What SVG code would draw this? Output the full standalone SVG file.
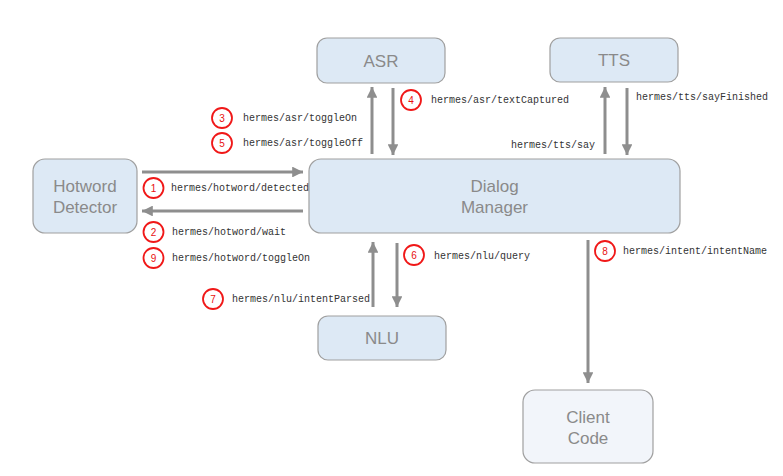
<svg xmlns="http://www.w3.org/2000/svg" width="783" height="476" viewBox="0 0 783 476">
<defs>
<marker id="ah" viewBox="0 0 10 10" refX="10" refY="5" markerWidth="3.6" markerHeight="3.6" markerUnits="strokeWidth" orient="auto">
<path d="M0,0 L10,5 L0,10 Z" fill="#8e8e8e"/>
</marker>
<style>
.node{fill:#dde9f5;stroke:#a0a0a0;stroke-width:1.2}
.client{fill:#f2f5fa;stroke:#a0a0a0;stroke-width:1.2}
.nt{font-family:"Liberation Sans",Arial,sans-serif;font-size:17px;fill:#8a8a8a;text-anchor:middle}
.ed{stroke:#8e8e8e;stroke-width:3;fill:none;marker-end:url(#ah)}
.lb{font-family:"Liberation Mono","Courier New",monospace;font-size:10px;fill:#333}
.c{fill:#fff;stroke:#f01818;stroke-width:1.8}
.cn{font-family:"Liberation Sans",Arial,sans-serif;font-size:10px;fill:#e81010;text-anchor:middle}
</style>
</defs>
<rect width="783" height="476" fill="#fff"/>
<g id="asr"><rect class="node" x="317" y="38" width="128" height="45" rx="10"/><text class="nt" x="381" y="67">ASR</text></g>
<g id="tts"><rect class="node" x="550" y="38" width="128" height="44" rx="10"/><text class="nt" x="614" y="66">TTS</text></g>
<g id="hotword"><rect class="node" x="33" y="159" width="104" height="74" rx="12"/><text class="nt" x="85" y="192">Hotword</text><text class="nt" x="85" y="213">Detector</text></g>
<g id="dialog"><rect class="node" x="309" y="159" width="371" height="74" rx="12"/><text class="nt" x="494.5" y="192">Dialog</text><text class="nt" x="494.5" y="213">Manager</text></g>
<g id="nlu"><rect class="node" x="318" y="316" width="128" height="44" rx="10"/><text class="nt" x="382" y="344">NLU</text></g>
<g id="client"><rect class="client" x="523" y="390" width="130" height="73" rx="12"/><text class="nt" x="588" y="423">Client</text><text class="nt" x="588" y="444">Code</text></g>
<g id="connectors">
<line class="ed" x1="372" y1="154" x2="372" y2="87"/>
<line class="ed" x1="393" y1="88" x2="393" y2="155"/>
<line class="ed" x1="605" y1="154" x2="605" y2="87"/>
<line class="ed" x1="627" y1="88" x2="627" y2="155"/>
<line class="ed" x1="142" y1="172" x2="303" y2="172"/>
<line class="ed" x1="303" y1="211" x2="142" y2="211"/>
<line class="ed" x1="373" y1="307" x2="373" y2="242"/>
<line class="ed" x1="397" y1="243" x2="397" y2="307"/>
<line class="ed" x1="588" y1="240" x2="588" y2="383"/>
</g>
<g id="labels">
<circle class="c" cx="222" cy="118" r="10"/><text class="cn" x="222" y="121.5">3</text><text class="lb" x="243" y="121">hermes/asr/toggleOn</text>
<circle class="c" cx="222" cy="143" r="10"/><text class="cn" x="222" y="146.5">5</text><text class="lb" x="243" y="146">hermes/asr/toggleOff</text>
<circle class="c" cx="411" cy="100" r="10"/><text class="cn" x="411" y="103.5">4</text><text class="lb" x="431" y="103">hermes/asr/textCaptured</text>
<text class="lb" x="636" y="100">hermes/tts/sayFinished</text>
<text class="lb" x="511" y="148">hermes/tts/say</text>
<circle class="c" cx="153.5" cy="188" r="10"/><text class="cn" x="153.5" y="191.5">1</text><text class="lb" x="171" y="191">hermes/hotword/detected</text>
<circle class="c" cx="153.5" cy="232" r="10"/><text class="cn" x="153.5" y="235.5">2</text><text class="lb" x="172" y="235">hermes/hotword/wait</text>
<circle class="c" cx="153.5" cy="258" r="10"/><text class="cn" x="153.5" y="261.5">9</text><text class="lb" x="172" y="261">hermes/hotword/toggleOn</text>
<circle class="c" cx="414" cy="255" r="10"/><text class="cn" x="414" y="258.5">6</text><text class="lb" x="434" y="259">hermes/nlu/query</text>
<circle class="c" cx="213" cy="299" r="10"/><text class="cn" x="213" y="302.5">7</text><text class="lb" x="232" y="302">hermes/nlu/intentParsed</text>
<circle class="c" cx="605" cy="251" r="10"/><text class="cn" x="605" y="254.5">8</text><text class="lb" x="623" y="254">hermes/intent/intentName</text>
</g>
</svg>
